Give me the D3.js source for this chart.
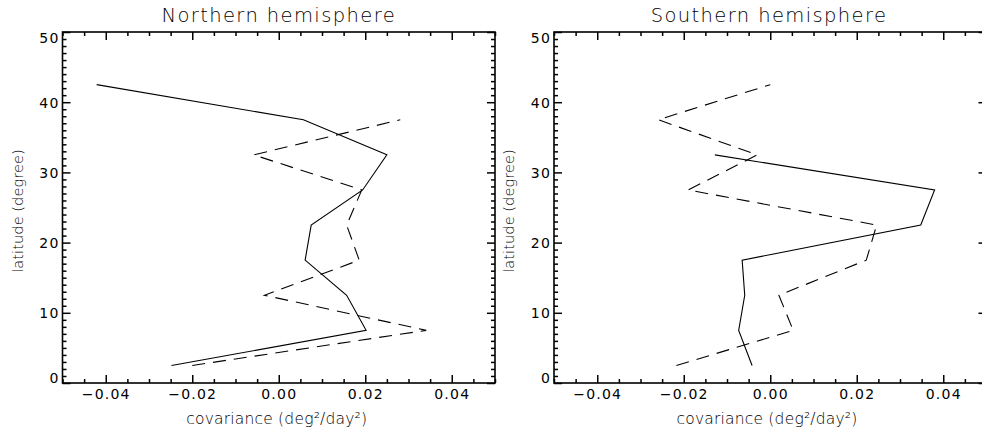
<!DOCTYPE html>
<html>
<head>
<meta charset="utf-8">
<script src="https://cdn.jsdelivr.net/npm/d3@7"></script>
<style>
  html, body { margin: 0; padding: 0; background: #fff; }
  svg { display: block; }
  .tick text { font-family: "DejaVu Sans", sans-serif; font-size: 14px; letter-spacing: 1.2px; fill: #000; }
  .tick line { stroke: #000; stroke-width: 1.5; }
  .title { font-family: "DejaVu Sans", sans-serif; font-weight: 200; font-size: 19.5px; letter-spacing: 1.4px; fill: #000; }
  .xlab { font-family: "DejaVu Sans", sans-serif; font-weight: 200; font-size: 15.5px; letter-spacing: 0.2px; fill: #000; }
  .ylab { font-family: "DejaVu Sans", sans-serif; font-weight: 200; font-size: 14.5px; letter-spacing: 0.1px; fill: #000; }
</style>
</head>
<body>
<svg id="chart" width="982" height="438"></svg>
<script>
// latitude bin centres (degrees)
const latitudes = [2.5, 7.5, 12.5, 17.5, 22.5, 27.5, 32.5, 37.5, 42.5];

// covariance profiles (deg^2/day^2); null where no value
const northSolid  = [-0.0248, 0.0202, 0.0157, 0.0061, 0.0075, 0.0194, 0.0250, 0.0057, -0.0421];
const northDashed = [-0.0200, 0.0341, -0.0033, 0.0186, 0.0157, 0.0192, -0.0058, 0.0281, null];
const southSolid  = [-0.0042, -0.0073, -0.0059, -0.0065, 0.0348, 0.0380, -0.0128, null, null];
const southDashed = [-0.0217, 0.0053, 0.0020, 0.0222, 0.0246, -0.0190, -0.0030, -0.0259, 0.0000];

const titles = ["Northern hemisphere", "Southern hemisphere"];
const xMajorTicks = [-0.04, -0.02, 0.00, 0.02, 0.04];
const yMajorTicks = [0, 10, 20, 30, 40, 50];
const xTitle = "covariance (deg\u00B2/day\u00B2)";
const yTitle = "latitude (degree)";

const svg = d3.select("#chart");
const plotTop = 32, plotBottom = 383, plotW = 432.5;
const panelLeft = [62.5, 554];

const xMinor = d3.range(-50, 51, 5).map(v => v / 1000).filter(v => Math.abs(Math.round(v * 1000) % 20) !== 0);
const yMinor = d3.range(0, 51).filter(v => v % 10 !== 0);
const fmt = d3.format(".2f");

const panels = [
  { title: titles[0], series: [northSolid, northDashed] },
  { title: titles[1], series: [southSolid, southDashed] }
];

panels.forEach((p, i) => {
  const left = panelLeft[i], right = left + plotW;
  const x = d3.scaleLinear().domain([-0.05, 0.05]).range([left, right]);
  const y = d3.scaleLinear().domain([0, 50]).range([plotBottom, plotTop]);
  const g = svg.append("g");

  // bottom axis with labels
  const gb = g.append("g").attr("transform", `translate(0,${plotBottom})`)
    .call(d3.axisBottom(x).tickValues(xMajorTicks).tickSizeInner(-8).tickSizeOuter(0).tickPadding(6).tickFormat(fmt));
  gb.append("g").attr("class", "minor").call(d3.axisBottom(x).tickValues(xMinor).tickSizeInner(-4).tickSizeOuter(0).tickFormat(""));
  // top axis
  const gt = g.append("g").attr("transform", `translate(0,${plotTop})`)
    .call(d3.axisTop(x).tickValues(xMajorTicks).tickSizeInner(-8).tickSizeOuter(0).tickFormat(""));
  gt.append("g").attr("class", "minor").call(d3.axisTop(x).tickValues(xMinor).tickSizeInner(-4).tickSizeOuter(0).tickFormat(""));
  // left axis with labels
  const gl = g.append("g").attr("transform", `translate(${left},0)`)
    .call(d3.axisLeft(y).tickValues(yMajorTicks).tickSizeInner(-8).tickSizeOuter(0).tickPadding(3).tickFormat(d3.format("d")));
  gl.append("g").attr("class", "minor").call(d3.axisLeft(y).tickValues(yMinor).tickSizeInner(-4).tickSizeOuter(0).tickFormat(""));
  // end labels sit just inside the axis range
  gl.selectAll(".tick text").attr("dy", d => d === 0 ? "-0.03em" : d === 50 ? "0.75em" : "0.36em");
  // right axis
  const gr = g.append("g").attr("transform", `translate(${right},0)`)
    .call(d3.axisRight(y).tickValues(yMajorTicks).tickSizeInner(-8).tickSizeOuter(0).tickFormat(""));
  gr.append("g").attr("class", "minor").call(d3.axisRight(y).tickValues(yMinor).tickSizeInner(-4).tickSizeOuter(0).tickFormat(""));

  g.selectAll(".domain").remove();
  g.selectAll(".minor .tick line").attr("stroke-width", 1.2);

  // plot frame
  g.append("rect").attr("x", left).attr("y", plotTop).attr("width", plotW).attr("height", plotBottom - plotTop)
    .attr("fill", "none").attr("stroke", "#000").attr("stroke-width", 1.6);

  // profiles
  const line = d3.line()
    .defined(d => d.v !== null)
    .x(d => x(d.v)).y(d => y(d.lat));
  p.series.forEach((vals, k) => {
    const pts = vals.map((v, j) => ({ lat: latitudes[j], v }));
    g.append("path").datum(pts).attr("d", line)
      .attr("fill", "none").attr("stroke", "#000").attr("stroke-width", 1.1)
      .attr("stroke-dasharray", k === 1 ? "13,8" : null);
  });

  // labels
  const cx = (left + right) / 2;
  g.append("text").attr("class", "title").attr("x", i === 0 ? cx : 769).attr("y", 21.5)
    .attr("text-anchor", "middle").text(p.title);
  g.append("text").attr("class", "xlab").attr("x", i === 0 ? cx - 2 : 767).attr("y", 424)
    .attr("text-anchor", "middle").text(xTitle);
  g.append("text").attr("class", "ylab")
    .attr("transform", `translate(${left - 40},211) rotate(-90)`)
    .attr("text-anchor", "middle").text(yTitle);
});
</script>
</body>
</html>
